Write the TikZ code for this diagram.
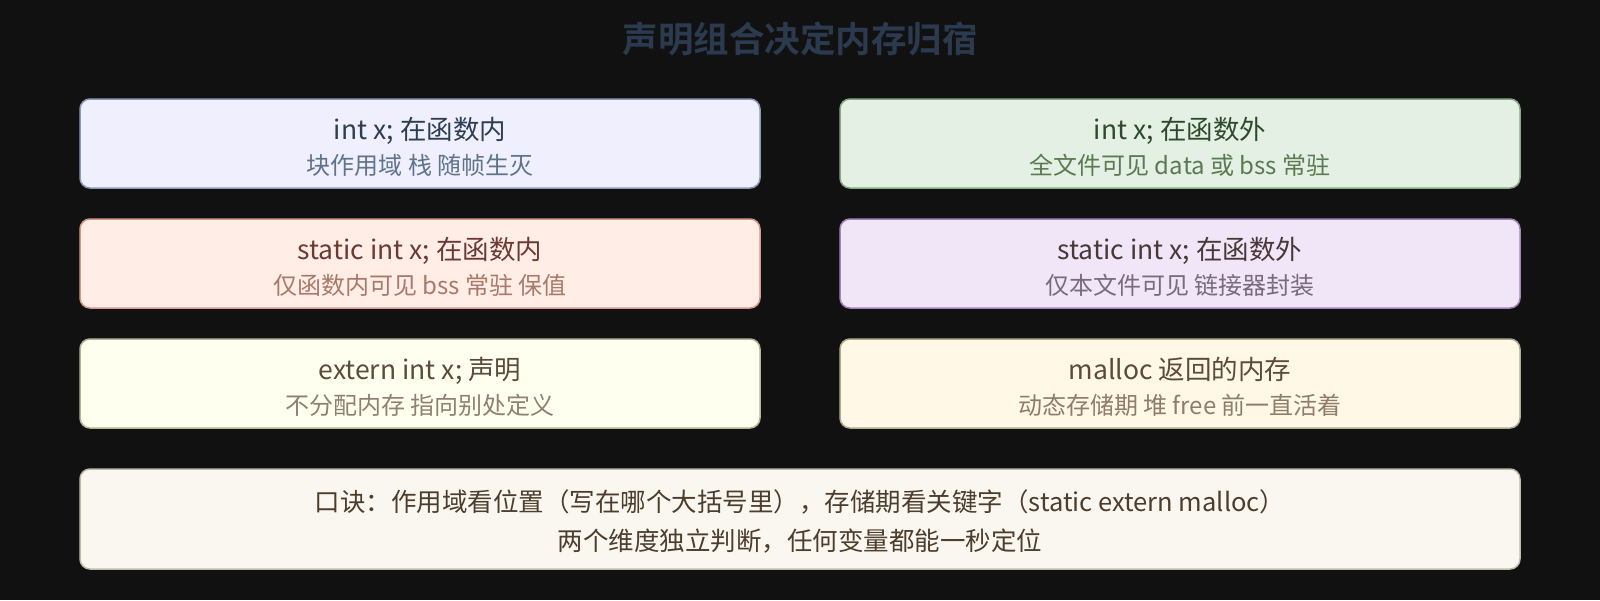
\documentclass[tikz,border=0pt]{standalone}
\usepackage{fontspec}
\setmainfont{Noto Sans CJK SC}[BoldFont={Noto Sans CJK SC Bold}]
\definecolor{bg}{HTML}{111111}
\definecolor{ttl}{HTML}{2B3A4E}
\definecolor{fa}{HTML}{EFEFFE}\definecolor{da}{HTML}{8B9BB4}\definecolor{ma}{HTML}{2C3E50}\definecolor{sa}{HTML}{5F738A}
\definecolor{fb}{HTML}{E3F0E3}\definecolor{db}{HTML}{88A888}\definecolor{mb}{HTML}{2E4A2E}\definecolor{sb}{HTML}{5A7A52}
\definecolor{fc}{HTML}{FFEDE6}\definecolor{dc}{HTML}{D4998A}\definecolor{mc}{HTML}{6B3A33}\definecolor{sc}{HTML}{A87A6A}
\definecolor{fd}{HTML}{F0E6F7}\definecolor{dd}{HTML}{A584BE}\definecolor{md}{HTML}{4A3838}\definecolor{sd}{HTML}{7A6A7E}
\definecolor{fe}{HTML}{FFFFF0}\definecolor{de}{HTML}{B5B599}\definecolor{me}{HTML}{5C4A3A}\definecolor{se}{HTML}{8F8070}
\definecolor{ff}{HTML}{FFF8E6}\definecolor{df}{HTML}{B0AC94}\definecolor{mf}{HTML}{5C4A3A}\definecolor{sf}{HTML}{8F7D6A}
\definecolor{fg}{HTML}{FAF7F0}\definecolor{dg}{HTML}{BDBDAA}\definecolor{mg}{HTML}{4D3D2D}
\tikzset{
  card/.style={draw=#1, line width=1.5pt, rounded corners=10pt, minimum width=680pt, minimum height=89pt, inner sep=0pt},
  maintxt/.style={text=#1, anchor=base, inner sep=0pt, font=\fontsize{26.5}{30}\selectfont},
  subtxt/.style={text=#1, anchor=base, inner sep=0pt, font=\fontsize{24}{28}\selectfont},
}
\begin{document}
\begin{tikzpicture}[x=1pt,y=-1pt]
\fill[bg] (0,0) rectangle (1600,600);
\useasboundingbox (0,0) rectangle (1600,600);
\node[text=ttl, font=\bfseries\fontsize{35.5}{40}\selectfont, inner sep=0pt] (title) at (800,39) {声明组合决定内存归宿};
% row 1
\node[card=da, fill=fa] (b1) at (420,143.5) {};
\node[maintxt=ma] (b1m) at ([yshift=4pt]b1.center) {int x; 在函数内};
\node[subtxt=sa] (b1s) at ([yshift=-31pt]b1.center) {块作用域 栈 随帧生灭};
\node[card=db, fill=fb] (b2) at (1180,143.5) {};
\node[maintxt=mb] (b2m) at ([yshift=4pt]b2.center) {int x; 在函数外};
\node[subtxt=sb] (b2s) at ([yshift=-31pt]b2.center) {全文件可见 data 或 bss 常驻};
% row 2
\node[card=dc, fill=fc] (b3) at (420,263.5) {};
\node[maintxt=mc] (b3m) at ([yshift=4pt]b3.center) {static int x; 在函数内};
\node[subtxt=sc] (b3s) at ([yshift=-31pt]b3.center) {仅函数内可见 bss 常驻 保值};
\node[card=dd, fill=fd] (b4) at (1180,263.5) {};
\node[maintxt=md] (b4m) at ([yshift=4pt]b4.center) {static int x; 在函数外};
\node[subtxt=sd] (b4s) at ([yshift=-31pt]b4.center) {仅本文件可见 链接器封装};
% row 3
\node[card=de, fill=fe] (b5) at (420,383.5) {};
\node[maintxt=me] (b5m) at ([yshift=4pt]b5.center) {extern int x; 声明};
\node[subtxt=se] (b5s) at ([yshift=-31pt]b5.center) {不分配内存 指向别处定义};
\node[card=df, fill=ff] (b6) at (1180,383.5) {};
\node[maintxt=mf] (b6m) at ([yshift=4pt]b6.center) {malloc 返回的内存};
\node[subtxt=sf] (b6s) at ([yshift=-31pt]b6.center) {动态存储期 堆 free 前一直活着};
% bottom
\node[card=dg, fill=fg, minimum width=1440pt, minimum height=100pt] (b7) at (800,519) {};
\node[maintxt=mg, font=\fontsize{25.5}{30}\selectfont] (b7a) at ([yshift=8pt]b7.center) {口诀：作用域看位置（写在哪个大括号里），存储期看关键字（static extern malloc）};
\node[maintxt=mg, font=\fontsize{25.5}{30}\selectfont] (b7b) at ([yshift=-31pt]b7.center) {两个维度独立判断，任何变量都能一秒定位};
\end{tikzpicture}
\end{document}
